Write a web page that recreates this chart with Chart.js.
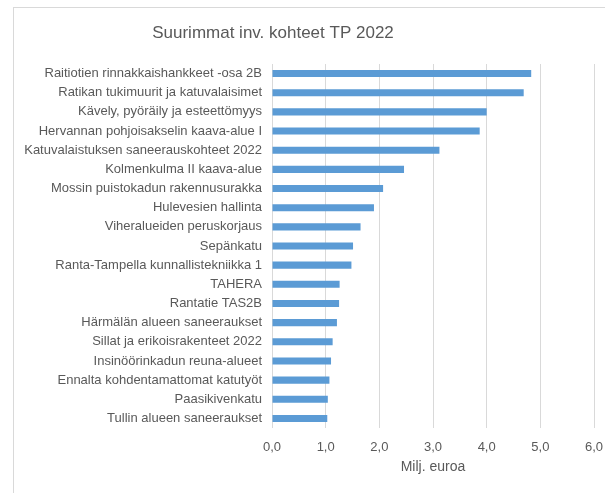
<!DOCTYPE html>
<html>
<head>
<meta charset="utf-8">
<script src="https://cdn.jsdelivr.net/npm/chart.js@4/dist/chart.umd.min.js"></script>
<style>
  html, body { margin: 0; padding: 0; background: #fff; }
  #wrap { position: relative; width: 605px; height: 493px; }
  #frame { position: absolute; left: 13px; top: 7px; right: -2px; bottom: -2px;
           border-left: 1px solid #d9d9d9; border-top: 1px solid #d9d9d9; }
  canvas { position: absolute; left: 0; top: 0; }
</style>
</head>
<body>
<div id="wrap">
  <div id="frame"></div>
  <canvas id="chart" width="605" height="493"></canvas>
</div>
<script>
// kohteet ja arvot (milj. euroa)
const otsikko = 'Suurimmat inv. kohteet TP 2022';
const kohteet = [
  'Raitiotien rinnakkaishankkeet -osa 2B',
  'Ratikan tukimuurit ja katuvalaisimet',
  'Kävely, pyöräily ja esteettömyys',
  'Hervannan pohjoisakselin kaava-alue I',
  'Katuvalaistuksen saneerauskohteet 2022',
  'Kolmenkulma II kaava-alue',
  'Mossin puistokadun rakennusurakka',
  'Hulevesien hallinta',
  'Viheralueiden peruskorjaus',
  'Sepänkatu',
  'Ranta-Tampella kunnallistekniikka 1',
  'TAHERA',
  'Rantatie TAS2B',
  'Härmälän alueen saneeraukset',
  'Sillat ja erikoisrakenteet 2022',
  'Insinöörinkadun reuna-alueet',
  'Ennalta kohdentamattomat katutyöt',
  'Paasikivenkatu',
  'Tullin alueen saneeraukset'
];
const arvot = [4.83, 4.69, 4.00, 3.87, 3.12, 2.46, 2.07, 1.90, 1.65, 1.51,
               1.48, 1.26, 1.25, 1.21, 1.13, 1.10, 1.07, 1.04, 1.03];
const xTicks = [0, 1, 2, 3, 4, 5, 6];

const fontFam = '"Liberation Sans", Arial, sans-serif';
const grey = '#595959';

// otsikko piirretään itse, koska se ei ole keskellä koko kuvaa
const otsikkoPlugin = {
  id: 'otsikko',
  afterDraw(chart) {
    const ctx = chart.ctx;
    ctx.save();
    ctx.font = '17px ' + fontFam;
    ctx.fillStyle = grey;
    ctx.textAlign = 'center';
    ctx.textBaseline = 'middle';
    ctx.fillText(otsikko, 273, 33);
    ctx.restore();
  }
};

new Chart(document.getElementById('chart'), {
  type: 'bar',
  data: {
    labels: kohteet,
    datasets: [{
      label: 'Milj. euroa',
      data: arvot,
      backgroundColor: '#5B9BD5',
      borderWidth: 0,
      barPercentage: 0.37,
      categoryPercentage: 1
    }]
  },
  options: {
    indexAxis: 'y',
    responsive: false,
    animation: false,
    layout: { padding: { left: 0, right: 11, top: 64, bottom: 17 } },
    plugins: {
      legend: { display: false },
      tooltip: { enabled: false },
      title: { display: false }
    },
    scales: {
      x: {
        min: 0,
        max: 6,
        afterBuildTicks: s => { s.ticks = xTicks.map(v => ({ value: v })); },
        afterFit: s => {
          s.height = 48;
          s.paddingLeft = 0;
          s.paddingRight = 0;
        },
        ticks: {
          color: grey,
          font: { family: fontFam, size: 13 },
          padding: 12,
          callback: v => v.toFixed(1).replace('.', ',')
        },
        grid: { color: '#d9d9d9', lineWidth: 1, drawTicks: false },
        border: { display: false },
        title: {
          display: true,
          text: 'Milj. euroa',
          color: grey,
          font: { family: fontFam, size: 14 },
          padding: { top: 4, bottom: 0 }
        }
      },
      y: {
        afterFit: s => { s.width = 272; },
        ticks: {
          color: grey,
          font: { family: fontFam, size: 13 },
          padding: 10,
          autoSkip: false
        },
        grid: { display: false, drawTicks: false },
        border: { display: false }
      }
    }
  },
  plugins: [otsikkoPlugin]
});
</script>
</body>
</html>
